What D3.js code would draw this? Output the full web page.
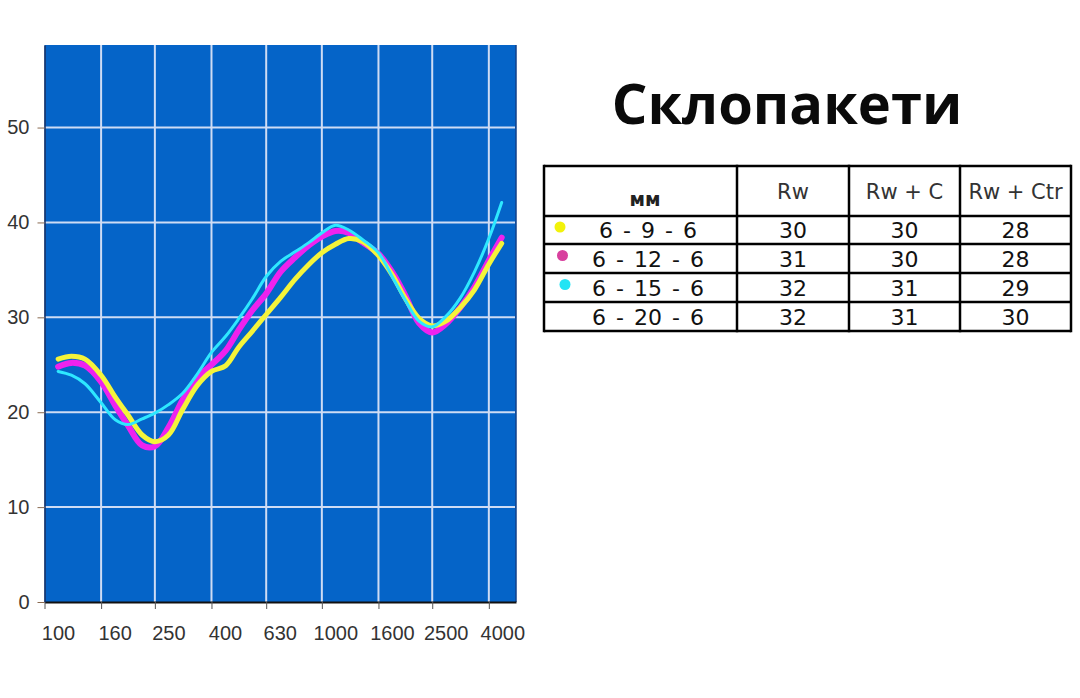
<!DOCTYPE html>
<html><head><meta charset="utf-8">
<script src="https://cdn.jsdelivr.net/npm/d3@7"></script>
<style>body{margin:0;background:#fff}svg{display:block}</style>
</head><body>
<script>
// ---- data ----
const freqTicks = [100,160,250,400,630,1000,1600,2500,4000];
const yTicks = [0,10,20,30,40,50];
const freqs = [112,125,140,160,180,200,225,250,280,315,355,400,450,500,560,630,710,800,900,1000,1120,1250,1400,1600,1800,2000,2240,2500,2800,3150,3550,4000,4450];
const s696  = [25.6,25.9,25.6,23.9,21.6,19.7,17.6,16.9,17.6,20.3,22.8,24.3,24.9,26.8,28.5,30.3,32.1,34.0,35.6,36.8,37.7,38.3,38.0,36.5,34.4,32.0,29.9,29.1,29.6,31.0,32.9,35.6,37.8];
const s6126 = [24.8,25.2,24.9,23.2,20.7,18.6,16.5,16.4,18.4,21.3,23.6,25.0,26.5,28.6,30.7,32.5,34.8,36.3,37.6,38.5,39.1,38.9,37.9,36.7,34.7,32.3,29.4,28.4,29.3,31.0,33.2,36.0,38.4];
const s6156 = [24.3,23.9,23.0,21.0,19.2,18.7,19.3,19.9,20.8,22.0,24.0,26.3,28.0,29.8,31.9,34.3,35.9,36.9,37.9,38.9,39.7,39.2,38.2,36.8,34.2,31.8,29.6,29.0,30.1,32.0,34.8,38.3,42.1];
const tableHead = ["мм","Rw","Rw + C","Rw + Ctr"];
const rowNames = ["6 - 9 - 6","6 - 12 - 6","6 - 15 - 6","6 - 20 - 6"];
const colRw = [30,31,32,32];
const colRwC = [30,30,31,31];
const colRwCtr = [28,28,29,30];
const title = "Склопакети";

// ---- styles ----
const seriesStyle = [
  {data:s6126, color:"#ee22ee", w:6},
  {data:s696,  color:"#f4f43a", w:5},
  {data:s6156, color:"#2ee8ff", w:3}
];
const dotColors = ["#f2f20a","#d8409e","#22e4f4",null];

const W=1080,H=698;
const svg = d3.select("body").append("svg").attr("width",W).attr("height",H);
svg.append("rect").attr("width",W).attr("height",H).attr("fill","#fff");

const L=44.5,R=516,T=45,B=602;
const x = d3.scaleLog().domain([100,5012]).range([L,R]);
const y = d3.scaleLinear().domain([0,58.7]).range([B,T]);

svg.append("rect").attr("x",L).attr("y",T).attr("width",R-L).attr("height",B-T).attr("fill","#0564c8");

// grid
const g = svg.append("g");
g.selectAll("line.h").data(yTicks.filter(d=>d>0)).join("line")
  .attr("x1",L).attr("x2",R-1).attr("y1",d=>y(d)).attr("y2",d=>y(d))
  .attr("stroke","#cfdcf4").attr("stroke-width",2);
g.selectAll("line.v").data(freqTicks.filter(d=>d>100)).join("line")
  .attr("x1",d=>x(d)).attr("x2",d=>x(d)).attr("y1",T).attr("y2",B)
  .attr("stroke","#cfdcf4").attr("stroke-width",2);

// right border
svg.append("line").attr("x1",R).attr("x2",R).attr("y1",T).attr("y2",B).attr("stroke","#12408a").attr("stroke-width",1.5);

// curves
const line = d3.line().x((d,i)=>x(freqs[i])).y(d=>y(d)).curve(d3.curveCatmullRom.alpha(0.5));
seriesStyle.forEach(s=>{
  svg.append("path").datum(s.data).attr("d",line).attr("fill","none")
    .attr("stroke",s.color).attr("stroke-width",s.w).attr("stroke-linecap","round").attr("stroke-linejoin","round");
});

// axes
const axFont = "Liberation Sans, Arial, sans-serif";
const ax = svg.append("g").attr("transform",`translate(0,${B})`)
  .call(d3.axisBottom(x).tickValues(freqTicks).tickFormat(d=>d).tickSize(7).tickSizeOuter(0));
ax.select(".domain").attr("stroke","#111").attr("stroke-width",2);
ax.selectAll(".tick line").attr("stroke","#555");
ax.selectAll(".tick text").attr("font-family",axFont).attr("font-size",20)
  .attr("fill","#333").attr("dx",13.5).attr("dy",28);

const ay = svg.append("g").attr("transform",`translate(${L},0)`)
  .call(d3.axisLeft(y).tickValues(yTicks).tickSize(7).tickSizeOuter(0).tickPadding(8));
ay.select(".domain").attr("stroke","#1a2f60").attr("stroke-width",1.5);
ay.selectAll(".tick line").attr("stroke","#8a6a50");
ay.selectAll(".tick text").attr("font-family",axFont).attr("font-size",20).attr("fill","#333");

// title
svg.append("text").attr("x",787).attr("y",124).attr("text-anchor","middle")
  .attr("font-family","Open Sans, sans-serif").attr("font-weight",700).attr("font-size",56)
  .attr("fill","#0a0a0a").text(title);

// table
const colX = [544,737,849,960,1071];
const rowY = [166,216,244,273,302,331];
const tg = svg.append("g");
colX.forEach(cx=>tg.append("line").attr("x1",cx).attr("x2",cx).attr("y1",rowY[0]-1.25).attr("y2",rowY[5]+1.25).attr("stroke","#000").attr("stroke-width",2.5));
rowY.forEach(ry=>tg.append("line").attr("x1",colX[0]).attr("x2",colX[4]).attr("y1",ry).attr("y2",ry).attr("stroke","#000").attr("stroke-width",2.5));
const font = "DejaVu Sans, Verdana, sans-serif";
tg.append("text").attr("x",645).attr("y",206).attr("text-anchor","middle").attr("font-family",font)
  .attr("font-weight",700).attr("font-size",19).attr("fill","#222").text(tableHead[0]);
[1,2,3].forEach(i=>{
  tg.append("text").attr("x",(colX[i]+colX[i+1])/2).attr("y",199).attr("text-anchor","middle")
    .attr("font-family",font).attr("font-size",21).attr("fill","#333").text(tableHead[i]);
});
const cols=[colRw,colRwC,colRwCtr];
rowNames.forEach((n,r)=>{
  const cy=(rowY[r+1]+rowY[r+2])/2+8;
  tg.append("text").attr("x",648).attr("y",cy).attr("text-anchor","middle").attr("font-family",font)
    .attr("font-size",22).attr("word-spacing",3).attr("fill","#111").text(n);
  cols.forEach((c,j)=>{
    tg.append("text").attr("x",(colX[j+1]+colX[j+2])/2).attr("y",cy).attr("text-anchor","middle")
      .attr("font-family",font).attr("font-size",22).attr("fill","#111").text(c[r]);
  });
  if(dotColors[r]) tg.append("circle").attr("cx",560+r*2.5).attr("cy",(rowY[r+1]+rowY[r+2])/2-3).attr("r",5.5).attr("fill",dotColors[r]);
});
</script>
</body></html>
